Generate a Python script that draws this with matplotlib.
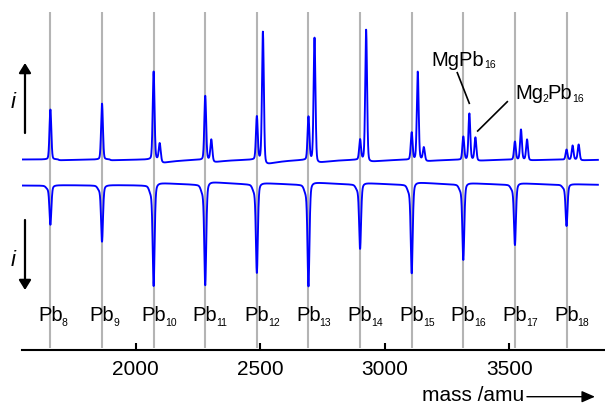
import numpy as np
import matplotlib
matplotlib.use("Agg")
import matplotlib.pyplot as plt

plt.rcParams['font.family'] = ['Liberation Sans', 'DejaVu Sans']

# ---------------- data ----------------
cluster_n = [8, 9, 10, 11, 12, 13, 14, 15, 16, 17, 18]
pb_mass = [1657.6, 1864.8, 2072.0, 2279.2, 2486.4, 2693.6, 2900.8, 3108.0, 3315.2, 3522.4, 3729.6]
mg_mass = 24.3

# upper spectrum (peak intensities, arbitrary units)
up_pb = [50, 56, 88, 64, 43, 43, 20, 27, 23, 18, 10]
up_mgpb = [0, 0, 16, 20, 128, 122, 130, 88, 46, 30, 14]
up_mg2pb = [0, 0, 0, 0, 0, 0, 0, 12, 22, 20, 15]
up_undershoot = [1, 1, 4, 3, 6, 4, 3, 2, 1.5, 1, 1]

# lower spectrum (dip depths, arbitrary units)
low_pb = [39, 56, 100, 100, 88, 101, 64, 88, 75, 60, 41]
low_recovery = [0.5, 0.5, 3, 3.5, 2, 3, 2, 3, 2, 2, 1]

mass_ticks = [2000, 2500, 3000, 3500]
mass_start, mass_end = 1545, 3856

# ---------------- layout ----------------
DPI = 100
fig = plt.figure(figsize=(6.05, 4.05), dpi=DPI)
ax = fig.add_axes([22/605, 55/405, 583/605, 350/405])
ax.set_xlim(1543.6, 3884.0)
ax.set_ylim(0, 350)

up_base = 190.5
low_base = 164.5

x = np.arange(mass_start, mass_end, 0.5)

def gauss(x, c, s):
    return np.exp(-0.5 * ((x - c) / s) ** 2)

def lorentz(x, c, g):
    return 1.0 / (1.0 + ((x - c) / g) ** 2)

def decay(x, c, tau):
    d = np.where(x > c, np.exp(-(x - c) / tau), 0.0)
    rise = np.where(x > c, 1 - np.exp(-(x - c) / 4.0), 0.0)
    return d * rise

def peak(x, c):
    return 0.85 * gauss(x, c, 3.6) + 0.15 * lorentz(x, c, 5)

upper = np.full_like(x, up_base)
lower = np.full_like(x, low_base)
for m, a0, a1, a2, u, d, r in zip(pb_mass, up_pb, up_mgpb, up_mg2pb, up_undershoot, low_pb, low_recovery):
    upper += a0 * peak(x, m)
    upper += a1 * peak(x, m + mg_mass)
    upper += a2 * peak(x, m + 2 * mg_mass)
    last = m + mg_mass * (2 if a2 else 1) + 6
    upper -= u * decay(x, last, 70)
    lower -= d * (0.7 * gauss(x, m, 3.8) + 0.3 * lorentz(x, m, 5))
    lower -= 0.05 * d * gauss(x, m - 12, 6)
    lower += r * decay(x, m + 8, 150)

# gray reference lines
ax.vlines(pb_mass, 2, 338, colors='#b4b4b4', linewidth=1.5, zorder=1)

ax.plot(x, upper, color='#0000ff', linewidth=1.35, zorder=3)
ax.plot(x, lower, color='#0000ff', linewidth=1.35, zorder=3)

renderer = fig.canvas.get_renderer()

def rich(xd, yd, parts, dx0=0.0):
    """parts: list of (string, fontsize, dy_px, gap_px)"""
    dx = dx0
    for s, size, dy, gap in parts:
        dx += gap
        t = ax.annotate(s, xy=(xd, yd), xycoords='data',
                        xytext=(dx * 72 / DPI, dy * 72 / DPI), textcoords='offset points',
                        ha='left', va='baseline', fontsize=size, annotation_clip=False)
        dx += t.get_window_extent(renderer).width

# cluster labels (baseline at pixel row 321)
for n, m in zip(cluster_n, pb_mass):
    rich(m, 29, [('Pb', 14.5, 0, 0), (str(n), 7.5, -4.5, -1.0)], dx0=-12.5)

# annotations
rich(3188.3, 284, [('MgPb', 14.5, 0, 0), ('16', 7.5, -2.5, -0.5)])
ax.plot([3291.0, 3339.2], [277.3, 246.7], color='black', linewidth=1.2)
rich(3522.7, 250.7, [('Mg', 14.5, 0, 0), ('2', 7.5, -2.5, -0.5), ('Pb', 14.5, 0, -0.5), ('16', 7.5, -2.5, -0.5)])
ax.plot([3491.8, 3372.9], [248.3, 219], color='black', linewidth=1.2)

# intensity arrows
arrow_kw = dict(arrowstyle='-|>,head_length=0.58,head_width=0.36', color='black',
                lw=1.6, mutation_scale=10, shrinkA=0, shrinkB=0)
ax.annotate('', xy=(1555.6, 287), xytext=(1555.6, 217), arrowprops=arrow_kw, annotation_clip=False)
ax.annotate('', xy=(1555.6, 60), xytext=(1555.6, 130), arrowprops=arrow_kw, annotation_clip=False)
ax.text(1507, 247, 'i', style='italic', ha='center', va='center', fontsize=16, clip_on=False)
ax.text(1507, 90, 'i', style='italic', ha='center', va='center', fontsize=16, clip_on=False)

# axis styling
for s in ['top', 'left', 'right']:
    ax.spines[s].set_visible(False)
ax.spines['bottom'].set_linewidth(1.5)
ax.set_yticks([])
ax.set_xticks(mass_ticks)
ax.tick_params(axis='x', direction='in', length=5, width=1.5, labelsize=15, pad=7)

# x-axis title with arrow
ax.text(3558, -45.7, 'mass /amu', ha='right', va='center', fontsize=15, clip_on=False)
ax.annotate('', xy=(3843.6, -46.7), xytext=(3570.6, -46.7),
            arrowprops=dict(arrowstyle='-|>,head_length=0.8,head_width=0.35', color='black',
                            lw=1.0, mutation_scale=10, shrinkA=0, shrinkB=0),
            annotation_clip=False)

fig.savefig('out.png', dpi=DPI)
